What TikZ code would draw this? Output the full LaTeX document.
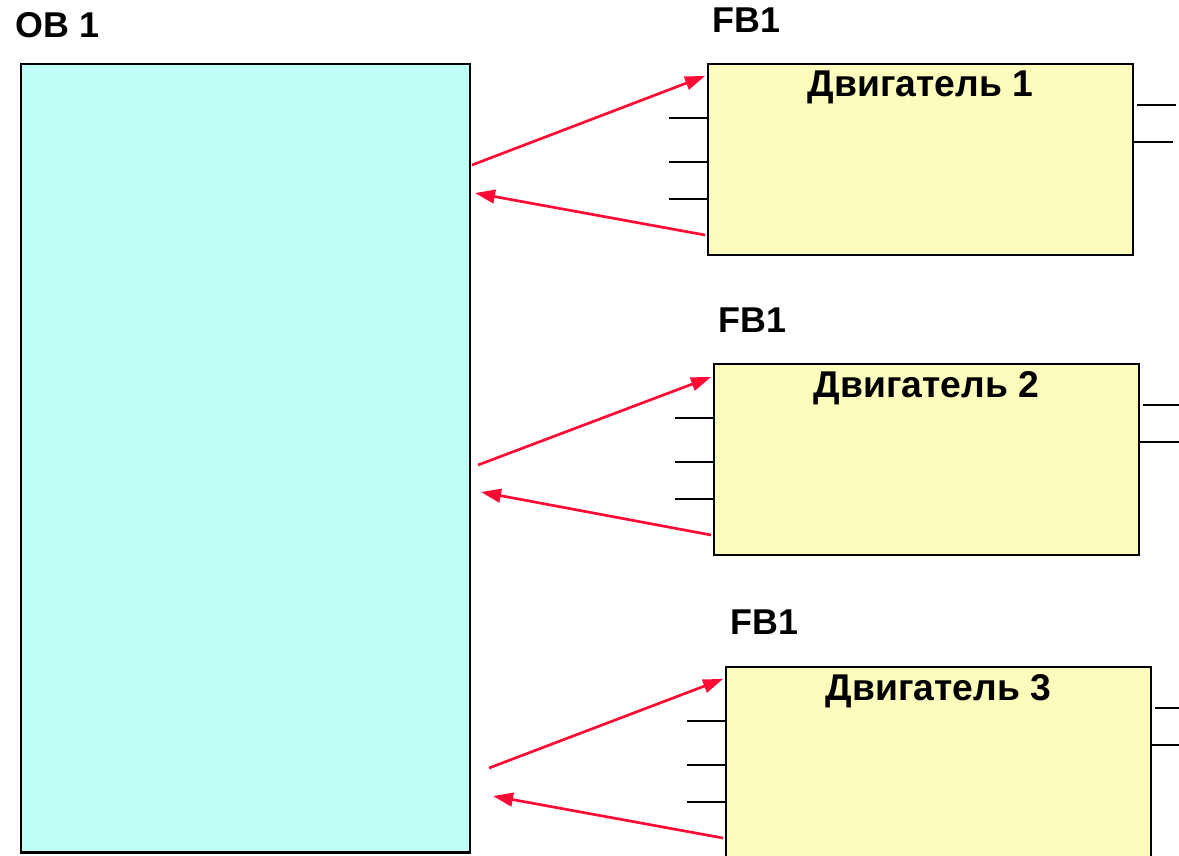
\documentclass[tikz,border=0pt]{standalone}
\usepackage{fontspec}
\setmainfont{Liberation Sans}
\usepackage{xcolor}
\usepackage{tikz}
\usetikzlibrary{arrows.meta, positioning, calc}
\definecolor{obfill}{HTML}{C0FFF8}
\definecolor{fbfill}{HTML}{FCFCBC}
\definecolor{callred}{HTML}{FF0A33}
\tikzset{
    orgblock/.style={
        rectangle, draw=black, fill=obfill, anchor=north west,
        minimum width=11.225cm, minimum height=19.7cm,
        inner sep=0pt, outer sep=0pt, line width=1.9pt,
    },
    funcblock/.style={
        rectangle, draw=black, fill=fbfill, anchor=north west,
        minimum width=10.625cm, minimum height=4.775cm,
        inner sep=0pt, outer sep=0pt, line width=1.9pt,
    },
    blockname/.style={
        anchor=west, inner sep=0pt, font=\fontsize{25.5}{28}\selectfont\bfseries,
    },
    blocktitle/.style={
        anchor=north, inner sep=0pt, font=\fontsize{26.5}{29}\selectfont\bfseries,
    },
    pin/.style={line width=2pt, draw=black},
    call/.style={-{Triangle[length=5mm, width=3.4mm]}, line width=1.9pt, draw=callred},
}

\begin{document}
\begin{tikzpicture}[x=0.025cm, y=-0.025cm]
    \useasboundingbox (0,0) rectangle (1179,856);

    % organisation block
    \node[orgblock] (ob) at (21,64) {};
    \node[blockname] (obname) at (15,25) {OB 1};

    % function blocks
    \node[funcblock] (fb1) at (708,64) {};
    \node[blockname] (fb1name) at (712,20) {FB1};
    \node[blocktitle, below=5pt of fb1.north] (fb1title) {Двигатель 1};

    \node[funcblock] (fb2) at (714,364) {};
    \node[blockname] (fb2name) at (718,320) {FB1};
    \node[blocktitle, below=5pt of fb2.north] (fb2title) {Двигатель 2};

    \node[funcblock, minimum height=5.5cm] (fb3) at (726,667) {};
    \node[blockname] (fb3name) at (730,622) {FB1};
    \node[blocktitle, below=5pt of fb3.north] (fb3title) {Двигатель 3};

    % inputs / outputs
    \foreach \blk in {fb1, fb2, fb3} {
        \draw[pin] ($(\blk.north west)+(0,54)$) -- ++(-39,0);
        \draw[pin] ($(\blk.north west)+(0,98)$) -- ++(-39,0);
        \draw[pin] ($(\blk.north west)+(0,135)$) -- ++(-39,0);
        \draw[pin] ($(\blk.north east)+(4,41)$) -- ++(39,0);
        \draw[pin] ($(\blk.north east)+(1,78)$) -- ++(39,0);
    }

    % calls and returns
    \coordinate (call1) at (472,165);
    \coordinate (ret1) at (475,193);
    \coordinate (call2) at (478,465);
    \coordinate (ret2) at (481,492);
    \coordinate (call3) at (489,768);
    \coordinate (ret3) at (493,796);

    \draw[call] (call1) -- ($(fb1.north west)+(-3,12)$);
    \draw[call] ($(fb1.north west)+(-3,171)$) -- (ret1);
    \draw[call] (call2) -- ($(fb2.north west)+(-3,13)$);
    \draw[call] ($(fb2.north west)+(-3,171)$) -- (ret2);
    \draw[call] (call3) -- ($(fb3.north west)+(-3,12)$);
    \draw[call] ($(fb3.north west)+(-3,171)$) -- (ret3);
\end{tikzpicture}
\end{document}
